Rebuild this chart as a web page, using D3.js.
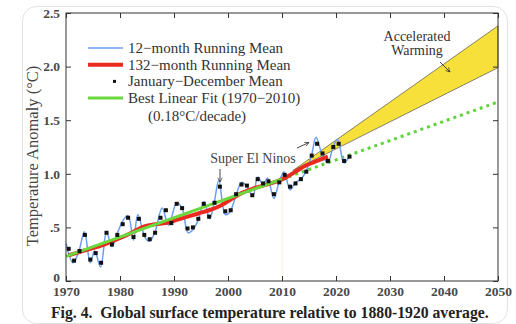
<!DOCTYPE html>
<html>
<head>
<meta charset="utf-8">
<script src="https://cdn.jsdelivr.net/npm/d3@7"></script>
<style>
  body { margin: 0; background: #fff; }
  svg { display: block; font-family: "Liberation Serif", "DejaVu Serif", serif; }
  .axis path { display: none; }
  .axis line { stroke: #333; }
  .axis text { font-family: "Liberation Serif", serif; font-size: 13.5px; font-weight: bold; fill: #4a4a4a; }
</style>
</head>
<body>
<svg id="chart" width="516" height="324"></svg>
<script>
// annual (Jan-Dec) means, relative to 1880-1920
var years = d3.range(1970, 2023);
var annual = [0.30, 0.19, 0.28, 0.43, 0.20, 0.26, 0.17, 0.45, 0.34, 0.43,
  0.53, 0.59, 0.41, 0.58, 0.43, 0.39, 0.45, 0.59, 0.66, 0.54,
  0.72, 0.68, 0.49, 0.50, 0.58, 0.72, 0.60, 0.73, 0.88, 0.65,
  0.66, 0.81, 0.90, 0.89, 0.80, 0.95, 0.91, 0.93, 0.81, 0.92,
  0.99, 0.88, 0.91, 0.95, 1.02, 1.17, 1.28, 1.19, 1.12, 1.25,
  1.28, 1.12, 1.16];

// 12-month running mean, turning points
var runTimes = [1970.0, 1971.3, 1972.4, 1973.4, 1974.5, 1975.3, 1976.4, 1977.5, 1978.5, 1979.7,
  1980.5, 1981.5, 1982.5, 1983.3, 1984.7, 1985.5, 1986.5, 1987.8, 1989.0, 1990.5,
  1991.5, 1992.6, 1993.5, 1994.5, 1995.6, 1996.6, 1997.4, 1998.3, 1999.5, 2000.3,
  2001.5, 2002.5, 2003.5, 2004.6, 2005.5, 2006.5, 2007.3, 2008.5, 2009.5, 2010.4,
  2011.5, 2012.5, 2013.5, 2014.5, 2015.5, 2016.3, 2017.5, 2018.5, 2019.5, 2020.3,
  2021.5, 2022.5];
var run12 = [0.35, 0.17, 0.28, 0.46, 0.17, 0.28, 0.13, 0.46, 0.32, 0.47,
  0.56, 0.61, 0.38, 0.62, 0.40, 0.37, 0.46, 0.68, 0.52, 0.73,
  0.68, 0.45, 0.48, 0.57, 0.74, 0.58, 0.72, 0.94, 0.62, 0.64,
  0.80, 0.92, 0.88, 0.79, 0.97, 0.90, 0.96, 0.77, 0.93, 1.02,
  0.85, 0.92, 0.95, 1.03, 1.18, 1.34, 1.17, 1.10, 1.26, 1.32,
  1.10, 1.17];

// 132-month running mean
var run132Years = [1970, 1972, 1974, 1976, 1978, 1980, 1982, 1984, 1986, 1988, 1990, 1992,
  1994, 1996, 1998, 2000, 2002, 2004, 2006, 2008, 2010, 2012, 2014, 2016, 2018];
var run132 = [0.24, 0.27, 0.30, 0.33, 0.37, 0.41, 0.46, 0.51, 0.53, 0.54, 0.57, 0.60,
  0.63, 0.66, 0.70, 0.76, 0.82, 0.86, 0.89, 0.92, 0.96, 1.02, 1.08, 1.12, 1.16];

// best linear fit 1970-2010, extended to 2050
var fitYears = [1970, 2010, 2050];
var fitValues = [0.23, 0.95, 1.67];

// accelerated warming band
var bandYears = [2012, 2050];
var bandLow = [1.03, 1.99];
var bandHigh = [1.03, 2.38];

var xTicks = [1970, 1980, 1990, 2000, 2010, 2020, 2030, 2040, 2050];
var yTicks = [0, 0.5, 1.0, 1.5, 2.0, 2.5];
var yTickLabels = ["0", ".5", "1.0", "1.5", "2.0", "2.5"];

var svg = d3.select("#chart");

// card outline
svg.append("rect")
  .attr("x", 22.5).attr("y", 6.5)
  .attr("width", 485).attr("height", 317)
  .attr("rx", 14)
  .attr("fill", "none")
  .attr("stroke", "#e2e2e2");

var x = d3.scaleLinear().domain([1970, 2050]).range([66, 498]);
var y = d3.scaleLinear().domain([0, 2.5]).range([281, 13]);

// faint 2010 marker
svg.append("line")
  .attr("x1", x(2010)).attr("x2", x(2010))
  .attr("y1", y(0.93)).attr("y2", y(0))
  .attr("stroke", "#f5f1de").attr("stroke-width", 1);

// band
var band = bandYears.map((d, i) => ({ t: d, lo: bandLow[i], hi: bandHigh[i] }));
svg.append("path")
  .datum(band)
  .attr("d", d3.area().x(d => x(d.t)).y0(d => y(d.lo)).y1(d => y(d.hi)))
  .attr("fill", "#f8e03a")
  .attr("stroke", "#555")
  .attr("stroke-width", 0.7);

// green fit: solid up to 2010, dotted after
var fit = fitYears.map((d, i) => ({ t: d, v: fitValues[i] }));
var line = d3.line().x(d => x(d.t)).y(d => y(d.v));
svg.append("path")
  .datum(fit.slice(1))
  .attr("d", line)
  .attr("fill", "none")
  .attr("stroke", "#5fd43a")
  .attr("stroke-width", 3)
  .attr("stroke-dasharray", "3,4");

// blue 12-month mean
var blue = runTimes.map((d, i) => ({ t: d, v: run12[i] }));
svg.append("path")
  .datum(blue)
  .attr("d", d3.line().x(d => x(d.t)).y(d => y(d.v)).curve(d3.curveCatmullRom))
  .attr("fill", "none")
  .attr("stroke", "#6a9ef2")
  .attr("stroke-width", 1.5);

// red 132-month mean
var red = run132Years.map((d, i) => ({ t: d + 0.5, v: run132[i] }));
svg.append("path")
  .datum(red)
  .attr("d", d3.line().x(d => x(d.t)).y(d => y(d.v)).curve(d3.curveCatmullRom))
  .attr("fill", "none")
  .attr("stroke", "#ea2a1e")
  .attr("stroke-width", 4);

svg.append("path")
  .datum(fit.slice(0, 2))
  .attr("d", line)
  .attr("fill", "none")
  .attr("stroke", "#6bd83e")
  .attr("stroke-width", 3);

// annual squares
svg.append("g")
  .selectAll("rect")
  .data(years)
  .join("rect")
  .attr("x", (d, i) => x(d + 0.5) - 2)
  .attr("y", (d, i) => y(annual[i]) - 2)
  .attr("width", 4)
  .attr("height", 4)
  .attr("fill", "#111");

// axes, ticks pointing inward on all four sides
svg.append("g").attr("class", "axis")
  .attr("transform", "translate(0," + y(0) + ")")
  .call(d3.axisBottom(x).tickValues(xTicks).tickFormat(d3.format("d"))
    .tickSizeInner(-5).tickSizeOuter(0).tickPadding(5));
svg.append("g").attr("class", "axis")
  .attr("transform", "translate(0," + y(2.5) + ")")
  .call(d3.axisTop(x).tickValues(xTicks).tickFormat("")
    .tickSizeInner(-5).tickSizeOuter(0));
var yAxis = svg.append("g").attr("class", "axis")
  .attr("transform", "translate(" + x(1970) + ",0)")
  .call(d3.axisLeft(y).tickValues(yTicks).tickFormat((d, i) => yTickLabels[i])
    .tickSizeInner(-5).tickSizeOuter(0).tickPadding(6));
// the zero label sits just above the 1970 label
yAxis.selectAll(".tick text").filter(d => d == 0).attr("dy", "0em");
svg.append("g").attr("class", "axis")
  .attr("transform", "translate(" + x(2050) + ",0)")
  .call(d3.axisRight(y).tickValues(yTicks).tickFormat("")
    .tickSizeInner(-5).tickSizeOuter(0));

svg.append("rect")
  .attr("x", x(1970)).attr("y", y(2.5))
  .attr("width", x(2050) - x(1970)).attr("height", y(0) - y(2.5))
  .attr("fill", "none").attr("stroke", "#333").attr("stroke-width", 1);

// y title
svg.append("text")
  .attr("transform", "translate(38," + 156 + ") rotate(-90)")
  .attr("text-anchor", "middle")
  .attr("font-size", 16.5)
  .attr("fill", "#444")
  .text("Temperature Anomaly (°C)");

// legend
var legend = [
  { name: "12\u2212month Running Mean", color: "#6a9ef2", w: 1.6, kind: "line" },
  { name: "132\u2212month Running Mean", color: "#ea2a1e", w: 4, kind: "line" },
  { name: "January\u2212December Mean", color: "#111", w: 0, kind: "dot" },
  { name: "Best Linear Fit (1970\u22122010)", color: "#6bd83e", w: 3, kind: "line" }
];
var lg = svg.append("g").attr("transform", "translate(88,48)");
legend.forEach(function(d, i) {
  var row = lg.append("g").attr("transform", "translate(0," + i * 16.7 + ")");
  if (d.kind == "line") {
    row.append("line").attr("x1", 0).attr("x2", 35)
      .attr("stroke", d.color).attr("stroke-width", d.w);
  } else {
    row.append("rect").attr("x", 25).attr("y", -1.5).attr("width", 3).attr("height", 3)
      .attr("fill", d.color);
  }
  row.append("text").attr("x", 40).attr("y", 5)
    .attr("font-size", 15).attr("fill", "#333").text(d.name);
});
lg.append("text").attr("x", 60).attr("y", 73)
  .attr("font-size", 15).attr("fill", "#333").text("(0.18°C/decade)");

// annotations
var ann = svg.append("g").attr("fill", "#333").attr("font-size", 14).attr("text-anchor", "middle");
ann.append("text").attr("x", 417).attr("y", 41).text("Accelerated");
ann.append("text").attr("x", 417).attr("y", 55).text("Warming");
ann.append("text").attr("x", 253).attr("y", 163).attr("fill", "#444").text("Super El Ninos");

svg.append("defs").append("marker")
  .attr("id", "head").attr("viewBox", "0 0 10 10")
  .attr("refX", 9).attr("refY", 5)
  .attr("markerWidth", 6).attr("markerHeight", 6)
  .attr("orient", "auto")
  .append("path").attr("d", "M1,1 L9,5 L1,9").attr("fill", "none").attr("stroke", "#333").attr("stroke-width", 1.3);

function arrow(x1, y1, x2, y2) {
  svg.append("line")
    .attr("x1", x1).attr("y1", y1).attr("x2", x2).attr("y2", y2)
    .attr("stroke", "#333").attr("stroke-width", 0.9)
    .attr("marker-end", "url(#head)");
}
arrow(440, 62, 450, 72);
arrow(220, 169, 220, 182);
arrow(297, 148, 309, 142.5);

// caption
svg.append("text")
  .attr("x", 51).attr("y", 318)
  .attr("font-size", 15.7).attr("font-weight", "bold").attr("fill", "#222")
  .style("white-space", "pre")
  .text("Fig. 4.  Global surface temperature relative to 1880-1920 average.");
</script>
</body>
</html>
